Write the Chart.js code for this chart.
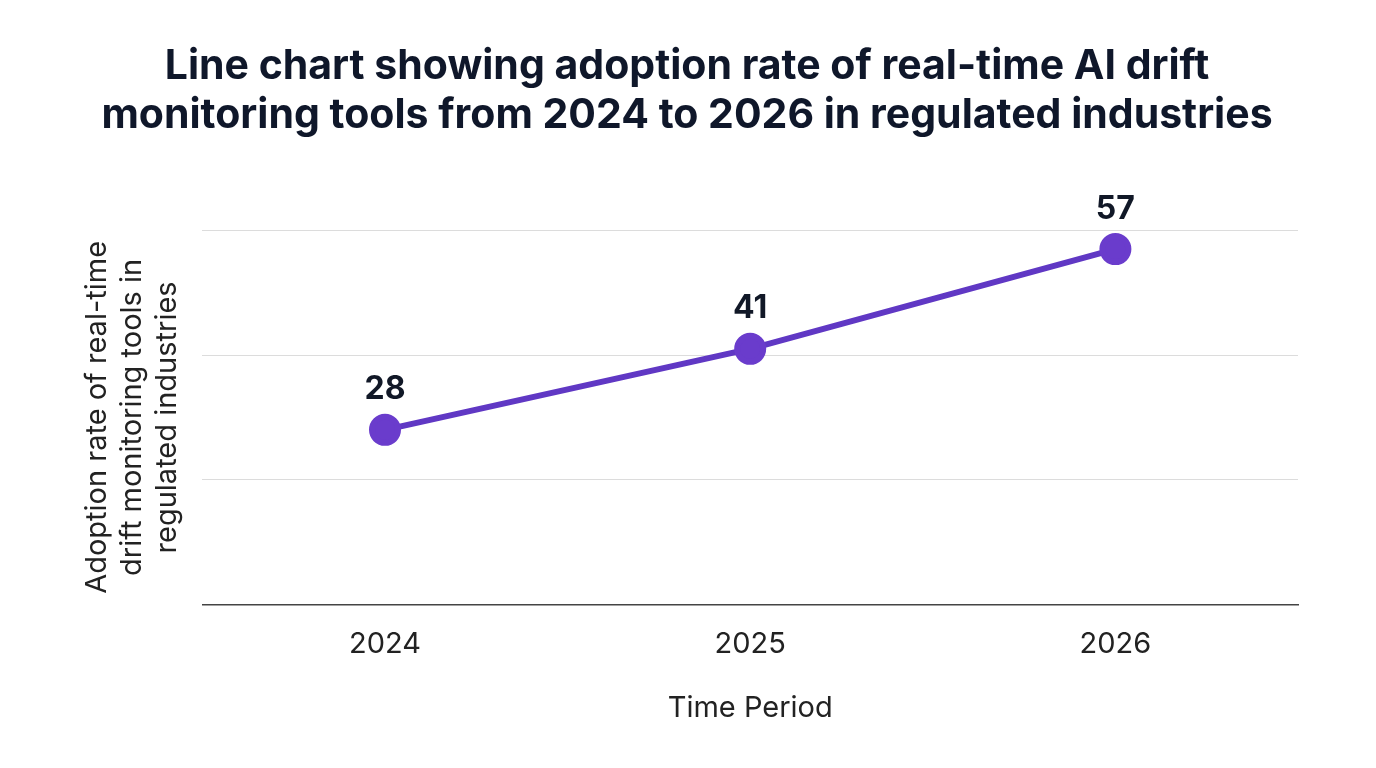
<!DOCTYPE html>
<html><head><meta charset="utf-8">
<script src="https://cdn.jsdelivr.net/npm/chart.js@4/dist/chart.umd.min.js"></script>
<style>html,body{margin:0;padding:0;background:#fff;}#w{width:1376px;height:768px;}</style>
</head><body><div id="w"><canvas id="c"></canvas></div>
<script>
const categories = ["2024", "2025", "2026"];
const adoptionValues = [28, 41, 57];
const titleLines = ["Line chart showing adoption rate of real-time AI drift", "monitoring tools from 2024 to 2026 in regulated industries"];
const yTitleLines = ["Adoption rate of real-time", "drift monitoring tools in", "regulated industries"];
const xTitle = "Time Period";

const labelPlugin = {
  id: 'vals',
  afterDatasetsDraw(chart) {
    const ctx = chart.ctx;
    const meta = chart.getDatasetMeta(0);
    ctx.save();
    ctx.font = 'bold 32px Inter';
    ctx.fillStyle = '#111827';
    ctx.textAlign = 'center';
    ctx.textBaseline = 'middle';
    meta.data.forEach((p, i) => {
      ctx.fillText(String(chart.data.datasets[0].data[i]), p.x, p.y - 40);
    });
    ctx.restore();
  }
};

new Chart(document.getElementById('c'), {
  type: 'line',
  data: {
    labels: categories,
    datasets: [{
      data: adoptionValues,
      borderColor: '#6038c4',
      backgroundColor: '#6038c4',
      borderWidth: 6,
      pointRadius: 13,
      pointHoverRadius: 13,
      pointBackgroundColor: '#6a3ccc',
      pointBorderColor: '#6a3ccc',
      tension: 0
    }]
  },
  options: {
    responsive: true,
    maintainAspectRatio: false,
    animation: false,
    devicePixelRatio: 1,
    layout: { padding: { left: 76, right: 78, top: 0, bottom: 38 } },
    plugins: {
      legend: { display: false },
      tooltip: { enabled: false },
      title: {
        display: true,
        text: titleLines,
        font: { family: 'Inter', size: 41, weight: 'bold' },
        color: '#0f172a',
        lineHeight: 1.08,
        padding: { top: 42, bottom: 90 }
      }
    },
    scales: {
      x: {
        offset: true,
        grid: { display: false },
        border: { display: true, color: '#444', width: 1.5 },
        ticks: { font: { family: 'Inter', size: 29 }, color: '#222', padding: 14 },
        title: { display: true, text: xTitle, font: { family: 'Inter', size: 29 }, color: '#222', padding: { top: 16 } }
      },
      y: {
        min: 0, max: 60,
        ticks: { display: false, stepSize: 20 },
        grid: { color: '#dcdcdc', lineWidth: 1, drawTicks: false },
        border: { display: false },
        title: { display: true, text: yTitleLines, font: { family: 'Inter', size: 29 }, color: '#222', lineHeight: 1.1, padding: { bottom: 18 } }
      }
    }
  },
  plugins: [labelPlugin]
});
</script></body></html>
